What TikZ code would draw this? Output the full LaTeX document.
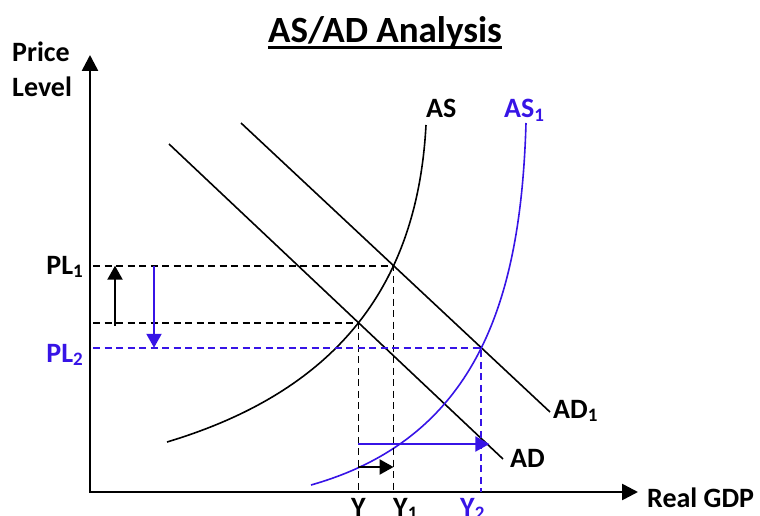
\documentclass[tikz,border=0pt]{standalone}
\usepackage{fontspec}
\setmainfont{Carlito}
\usetikzlibrary{arrows.meta,intersections}
\definecolor{myblue}{RGB}{55,20,230}
\newcommand\subd[1]{\raisebox{-0.25ex}{\fontsize{19}{19}\selectfont #1}}
\begin{document}
\begin{tikzpicture}[x=1pt,y=1pt,
 lbl/.style={font=\fontsize{28}{30}\selectfont\bfseries, inner sep=0pt},
 ttl/.style={font=\fontsize{37}{40}\selectfont\bfseries, inner sep=0pt},
 curve/.style={line width=1.6pt},
 guide/.style={line width=1.8pt, dash pattern=on 7pt off 4.5pt},
 axis/.style={line width=2.6pt, line join=miter, {Triangle[length=16pt,width=16pt]}-{Triangle[length=16pt,width=16pt]}},
 shiftarrow/.style={line width=2.2pt, -{Triangle[length=14pt,width=15pt]}}]
\useasboundingbox (0,0) rectangle (760,515);

% axes
\coordinate (O) at (90,23);
\coordinate (ytop) at (90,460);
\coordinate (xend) at (638,23);
\draw[axis] (ytop) -- (O) -- (xend);

% curves
\draw[curve, name path=AD] (169,371) coordinate (ADa) -- (503,56) coordinate (ADb);
\draw[curve, name path=AD1] (241,392) coordinate (ADc) -- (550,103) coordinate (ADd);
\draw[curve, name path=AS] (167,73) coordinate (ASa) .. controls (347,127) and (418,240) .. (426,390) coordinate (ASb);
\draw[curve, myblue, name path=AS1] (311,30) coordinate (ASc) .. controls (481,78) and (521,222) .. (526,392) coordinate (ASd);

\path[name intersections={of=AD and AS, by=E0}];
\path[name intersections={of=AD1 and AS, by=E1}];
\path[name intersections={of=AD1 and AS1, by=E2}];

% guides
\draw[guide] ([xshift=3pt]E1 -| O) -- (E1) -- (E1 |- O);
\draw[guide] ([xshift=3pt]E0 -| O) -- (E0) -- (E0 |- O);
\draw[guide, myblue] ([xshift=3pt]E2 -| O) -- (E2) -- (E2 |- O);

% shift arrows
\coordinate (yb) at (0,71);
\coordinate (yk) at (0,48);
\draw[shiftarrow] ([xshift=25pt,yshift=-3pt]E0 -| O) -- ([xshift=25pt]E1 -| O);
\draw[shiftarrow, myblue] ([xshift=64pt]E1 -| O) -- ([xshift=64pt]E2 -| O);
\draw[shiftarrow, myblue] (E0 |- yb) -- ([xshift=8pt]E2 |- yb);
\draw[shiftarrow] (E0 |- yk) -- (E1 |- yk);

% title
\node[ttl, anchor=base] (title) at (385,472) {AS/AD Analysis};
\draw[line width=3pt] ([yshift=-5pt]title.base west) -- ([yshift=-5pt]title.base east);

% labels
\node[lbl, anchor=base west] (price) at (12,453) {Price};
\node[lbl, anchor=base west] (level) at (12,418) {Level};
\node[lbl, anchor=base west] (lAS) at (426,397) {AS};
\node[lbl, anchor=base west, text=myblue] (lAS1) at (504,397) {AS\subd{1}};
\node[lbl, anchor=base east] (lPL1) at (83,241) {PL\subd{1}};
\node[lbl, anchor=base east, text=myblue] (lPL2) at (83,153) {PL\subd{2}};
\node[lbl, anchor=base west] (lAD1) at (553,97) {AD\subd{1}};
\node[lbl, anchor=base west] (lAD) at (510,48) {AD};
\node[lbl, anchor=base west] (lGDP) at (647,8) {Real GDP};
\node[lbl, anchor=base] (lY) at (E0 |- 0,-1) {Y};
\node[lbl, anchor=base west] (lY1) at (393,-1) {Y\subd{1}};
\node[lbl, anchor=base west, text=myblue] (lY2) at (460,-1) {Y\subd{2}};
\end{tikzpicture}
\end{document}
